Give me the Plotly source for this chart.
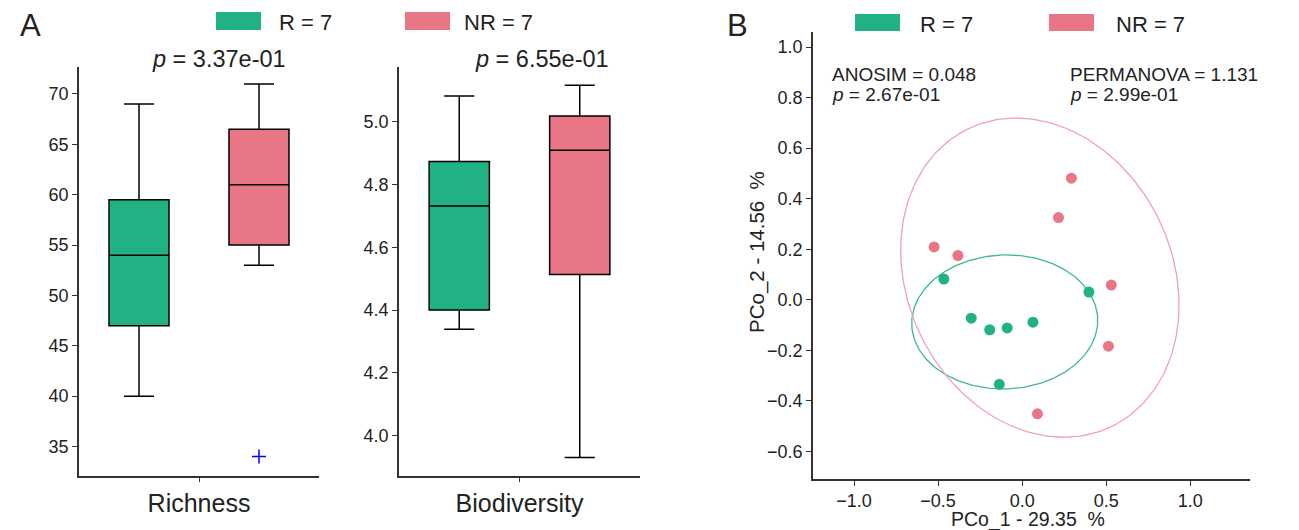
import numpy as np
import plotly.graph_objects as go

# ---------------- data ----------------
groups = ["R", "NR"]
group_labels = ["R = 7", "NR = 7"]
colors = {"R": "#22B085", "NR": "#E87686"}
ell_colors = {"R": "#3DB98F", "NR": "#F0A3AD"}

# box statistics: [lower whisker, Q1, median, Q3, upper whisker]
richness_stats = {"R": [40.0, 47.0, 54.0, 59.5, 69.0],
                  "NR": [53.0, 55.0, 61.0, 66.5, 71.0]}
richness_outliers = {"R": [], "NR": [34.0]}
biodiv_stats = {"R": [4.339, 4.400, 4.731, 4.873, 5.082],
                "NR": [3.930, 4.513, 4.909, 5.018, 5.116]}
biodiv_outliers = {"R": [], "NR": []}
p_richness = "3.37e-01"
p_biodiv = "6.55e-01"

# PCoA coordinates
pco1 = {"R": [-0.466, 0.397, -0.303, -0.193, -0.089, 0.064, -0.136],
        "NR": [-0.524, -0.382, 0.216, 0.293, 0.530, 0.513, 0.091]}
pco2 = {"R": [0.082, 0.030, -0.073, -0.119, -0.112, -0.089, -0.335],
        "NR": [0.209, 0.175, 0.325, 0.481, 0.058, -0.184, -0.452]}
anosim_r, anosim_p = "0.048", "2.67e-01"
permanova_f, permanova_p = "1.131", "2.99e-01"
pco1_label = "PCo_1 - 29.35 \u00a0%"
pco2_label = "PCo_2 - 14.56 \u00a0%"

# ---------------- helpers ----------------
OFF = 8  # page body margin
W, H = 1299 - OFF, 530 - OFF
FONT = "Liberation Sans, Arial, sans-serif"
TXT = "#222222"
AX = "#333333"


def px(x):
    return (x - OFF) / W


def py(y):
    return 1 - (y - OFF) / H


def ellipse(xs, ys, k=2.0, n=240):
    xs, ys = np.asarray(xs), np.asarray(ys)
    m = np.array([xs.mean(), ys.mean()])
    cov = np.cov(xs, ys)
    vals, vecs = np.linalg.eigh(cov)
    t = np.linspace(0, 2 * np.pi, n)
    circ = np.vstack([np.cos(t), np.sin(t)])
    pts = vecs @ (k * np.sqrt(vals)[:, None] * circ) + m[:, None]
    return pts[0], pts[1]


fig = go.Figure()

offsets = {"R": -0.25, "NR": 0.25}
for axn, stats, outl in [("", richness_stats, richness_outliers),
                         ("2", biodiv_stats, biodiv_outliers)]:
    for g in groups:
        s = stats[g]
        fig.add_trace(go.Box(
            x=[offsets[g]], lowerfence=[s[0]], q1=[s[1]], median=[s[2]],
            q3=[s[3]], upperfence=[s[4]], width=0.25, whiskerwidth=0.5,
            fillcolor=colors[g], line=dict(color="black", width=1.5),
            boxpoints=False, showlegend=False,
            xaxis="x" + axn, yaxis="y" + axn))
        if outl[g]:
            fig.add_trace(go.Scatter(
                x=[offsets[g]] * len(outl[g]), y=outl[g], mode="markers",
                marker=dict(symbol="cross-thin", size=10,
                            line=dict(color="blue", width=1.5)),
                showlegend=False, xaxis="x" + axn, yaxis="y" + axn))

for g in groups:
    ex, ey = ellipse(pco1[g], pco2[g])
    fig.add_trace(go.Scatter(x=ex, y=ey, mode="lines",
                             line=dict(color=ell_colors[g], width=1.3),
                             showlegend=False, xaxis="x3", yaxis="y3"))
for g in groups:
    fig.add_trace(go.Scatter(x=pco1[g], y=pco2[g], mode="markers",
                             marker=dict(color=colors[g], size=11),
                             showlegend=False, xaxis="x3", yaxis="y3"))

axis_common = dict(showline=True, linecolor=AX, linewidth=1.5, ticks="outside",
                   ticklen=5, tickwidth=1.2, tickcolor=AX, showgrid=False,
                   zeroline=False, automargin=False,
                   tickfont=dict(family=FONT, size=18, color=TXT))
cat_font = dict(family=FONT, size=25, color=TXT)

yA = [py(475.5), py(67)]
fig.update_layout(
    width=W, height=H, margin=dict(l=0, r=0, t=0, b=0),
    paper_bgcolor="white", plot_bgcolor="white", showlegend=False,
    xaxis=dict(domain=[px(79), px(319)], range=[-0.5, 0.5], tickvals=[0],
               ticktext=["Richness"], anchor="y",
               **{**axis_common, "tickfont": cat_font}),
    yaxis=dict(domain=yA, range=[32.12, 72.68], tickvals=[35, 40, 45, 50, 55, 60, 65, 70],
               anchor="x", **axis_common),
    xaxis2=dict(domain=[px(399), px(640)], range=[-0.5, 0.5], tickvals=[0],
                ticktext=["Biodiversity"], anchor="y2",
                **{**axis_common, "tickfont": cat_font}),
    yaxis2=dict(domain=yA, range=[3.873, 5.174], tickvals=[4.0, 4.2, 4.4, 4.6, 4.8, 5.0],
                tickformat=".1f", anchor="x2", **axis_common),
    xaxis3=dict(domain=[px(813), px(1250)], range=[-1.244, 1.355],
                tickvals=[-1.0, -0.5, 0.0, 0.5, 1.0], tickformat=".1f",
                anchor="y3", **axis_common),
    yaxis3=dict(domain=[py(479), py(32)], range=[-0.71, 1.06],
                tickvals=[-0.6, -0.4, -0.2, 0.0, 0.2, 0.4, 0.6, 0.8, 1.0],
                tickformat=".1f", anchor="x3", **axis_common),
)

shapes = []
ann = []


def text(x, y, s, size, xanchor="left", angle=0):
    ann.append(dict(x=px(x), y=py(y), xref="paper", yref="paper", text=s,
                    showarrow=False, xanchor=xanchor, yanchor="middle",
                    textangle=angle, font=dict(family=FONT, size=size, color=TXT)))


def patch(x0, x1, y0, y1, c):
    shapes.append(dict(type="rect", xref="paper", yref="paper", x0=px(x0), x1=px(x1),
                       y0=py(y1), y1=py(y0), fillcolor=c, line=dict(width=0)))


# panel letters
text(18, 26, "A", 31)
text(725, 25, "B", 31)

# legends
for (gx, tx), g, lab in zip([(216, 277), (405, 462)], groups, group_labels):
    patch(gx, gx + 45, 12, 30, colors[g])
    text(tx, 22, lab, 22)
for (gx, tx), g, lab in zip([(855, 918), (1049, 1114)], groups, group_labels):
    patch(gx, gx + 45, 14, 31, colors[g])
    text(tx, 24, lab, 22)

# p values panel A
text(219, 59, "<i>p</i> = " + p_richness, 23.5, xanchor="center")
text(542, 59, "<i>p</i> = " + p_biodiv, 23.5, xanchor="center")

# statistics panel B
text(830, 75, "ANOSIM = " + anosim_r, 19)
text(830, 94, "<i>p</i> = " + anosim_p, 19)
text(1068, 75, "PERMANOVA = " + permanova_f, 19)
text(1068, 94, "<i>p</i> = " + permanova_p, 19)

# axis titles panel B
text(1028, 519, pco1_label, 19.5, xanchor="center")
text(757, 252, pco2_label, 20.5, xanchor="center", angle=-90)

fig.update_layout(shapes=shapes, annotations=ann)
fig.write_html("out.html")
